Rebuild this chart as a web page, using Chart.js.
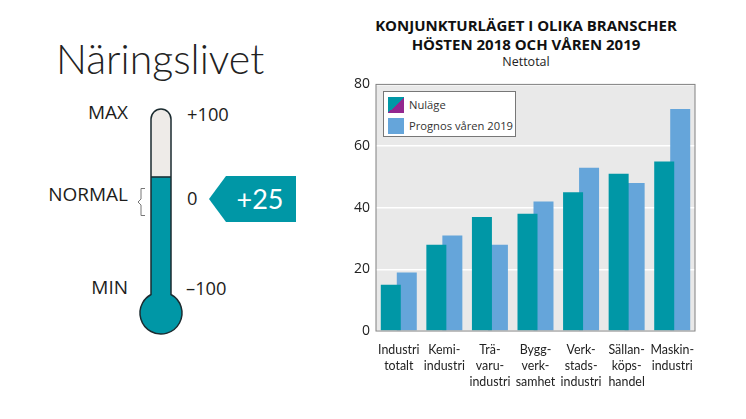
<!DOCTYPE html>
<html lang="sv">
<head>
<meta charset="utf-8">
<title>Näringslivet</title>
<script src="https://cdn.jsdelivr.net/npm/chart.js@4"></script>
<style>
  html, body { margin: 0; padding: 0; background: #fff; }
  body { width: 746px; height: 419px; position: relative; overflow: hidden; font-family: "Open Sans", sans-serif; color: #1d1d1b; }
  .txt { position: absolute; white-space: nowrap; line-height: 1; }
  .rubrik { left: 56px; top: 38px; font-family: Lato, sans-serif; font-weight: 300; font-size: 41px; color: #222; }
  .etikett { font-size: 18.3px; }
  .hoger { text-align: right; width: 100px; font-size: 19px; }
  #titel { position: absolute; left: 340px; top: 16px; width: 372px; text-align: center; font-weight: 700; font-size: 15px; line-height: 19px; color: #111; }
  #undertitel { position: absolute; left: 340px; top: 53px; width: 372px; text-align: center; font-size: 12.5px; color: #222; }
  #badge { position: absolute; left: 209px; top: 176px; width: 87px; height: 46px; background: #0097a6; clip-path: polygon(0 50%, 17px 0, 100% 0, 100% 100%, 17px 100%); color: #fff; font-family: Lato, sans-serif; font-size: 27px; line-height: 46px; text-align: center; text-indent: 15px; }
  #klammer { position: absolute; left: 134px; top: 186px; }
  #termo { position: absolute; left: 130px; top: 100px; width: 62px; height: 240px; }
  #stapel { position: absolute; left: 340px; top: 70px; width: 370px; height: 330px; }
  #legend { position: absolute; left: 383px; top: 91px; width: 131px; height: 44px; background: #fff; border: 1px solid #777; font-size: 11.2px; color: #333; }
  #legend div { position: absolute; left: 4px; height: 16px; line-height: 16px; padding-left: 21px; white-space: nowrap; }
  #legend i { position: absolute; left: 0; top: 0; width: 16px; height: 16px; }
</style>
</head>
<body>
<div class="txt rubrik">Näringslivet</div>
<div class="txt etikett hoger" style="left:28px;top:103px">MAX</div>
<div class="txt etikett hoger" style="left:28px;top:185px">NORMAL</div>
<div class="txt etikett hoger" style="left:28px;top:278px">MIN</div>
<div class="txt etikett" style="left:187px;top:105px">+100</div>
<div class="txt etikett" style="left:187px;top:189px">0</div>
<div class="txt etikett" style="left:186px;top:279px">–100</div>
<svg id="klammer" width="12" height="32"><path d="M11 2.5H7V13L4 16L7 19V29.5H11" fill="none" stroke="#777" stroke-width="1"/></svg>
<div id="badge"></div>
<div id="termo"><canvas id="termoCanvas"></canvas></div>

<div id="titel">KONJUNKTURLÄGET I OLIKA BRANSCHER<br>HÖSTEN 2018 OCH VÅREN 2019</div>
<div id="undertitel">Nettotal</div>
<div id="stapel"><canvas id="stapelCanvas"></canvas></div>
<div id="legend"></div>

<script>
// ===== Data =====
const branscher = [
  ["Industri", "totalt"],
  ["Kemi-", "industri"],
  ["Trä-", "varu-", "industri"],
  ["Bygg-", "verk-", "samhet"],
  ["Verk-", "stads-", "industri"],
  ["Sällan-", "köps-", "handel"],
  ["Maskin-", "industri"]
];
const nulage = [15, 28, 37, 38, 45, 51, 55];
const prognos = [19, 31, 28, 42, 53, 48, 72];
const serieNamn = ["Nuläge", "Prognos våren 2019"];
const termoVarde = 25;
const termoMin = -100;
const termoMax = 100;

const TEAL = "#0097a6";
const BLA = "#65a5da";
const LILA = "#93278f";
const LJUS = "#eeebe8";
const KANT = "#1b2b30";

// ===== Stapeldiagram =====
const plotBakgrund = {
  id: "plotBakgrund",
  beforeDraw(chart) {
    const { ctx, chartArea: a } = chart;
    ctx.save();
    ctx.fillStyle = "#e9e9e9";
    ctx.fillRect(a.left, a.top, a.right - a.left, a.bottom - a.top);
    ctx.restore();
  },
  afterDatasetsDraw(chart) {
    const { ctx, chartArea: a } = chart;
    ctx.save();
    ctx.strokeStyle = "#808080";
    ctx.lineWidth = 1;
    ctx.strokeRect(a.left, a.top, a.right - a.left, a.bottom - a.top);
    ctx.restore();
  }
};

new Chart(document.getElementById("stapelCanvas"), {
  type: "bar",
  data: {
    labels: branscher,
    datasets: [
      { label: serieNamn[0], data: nulage, backgroundColor: TEAL },
      { label: serieNamn[1], data: prognos, backgroundColor: BLA }
    ]
  },
  options: {
    responsive: true,
    maintainAspectRatio: false,
    animation: false,
    // staplarna overlappar lite, darav barPercentage over 1
    categoryPercentage: 0.702,
    barPercentage: 1.25,
    layout: { padding: { top: 14, right: 15, left: 0, bottom: 0 } },
    plugins: { legend: { display: false }, tooltip: { enabled: false } },
    scales: {
      x: {
        grid: { display: false },
        border: { display: false },
        afterFit(s) { s.height = 69; },
        ticks: { color: "#222", font: { family: "Lato", size: 12.4, lineHeight: 1.29 }, padding: 3, maxRotation: 0, autoSkip: false }
      },
      y: {
        min: 0,
        max: 80,
        afterFit(s) { s.width = 36; },
        grid: { color: "#fff", lineWidth: 1.5, drawTicks: false },
        border: { display: false },
        ticks: { stepSize: 20, color: "#222", font: { family: "Open Sans", size: 14 }, padding: 6 }
      }
    }
  },
  plugins: [plotBakgrund]
});

// ===== Termometer =====
function termoForm(ctx, chart) {
  const x = chart.scales.x.getPixelForValue(0);
  const topp = chart.scales.y.getPixelForValue(termoMax) - 5;
  const bulbY = chart.scales.y.getPixelForValue(termoMin) + 31;
  const r = 21, b = 10;
  const v = Math.asin(b / r);
  ctx.beginPath();
  ctx.moveTo(x - b, bulbY - r * Math.cos(v));
  ctx.lineTo(x - b, topp + b);
  ctx.arc(x, topp + b, b, Math.PI, 0);
  ctx.lineTo(x + b, bulbY - r * Math.cos(v));
  ctx.arc(x, bulbY, r, -Math.PI / 2 + v, -Math.PI / 2 - v + Math.PI * 2);
  ctx.closePath();
}

const termoRam = {
  id: "termoRam",
  beforeDatasetsDraw(chart) {
    const { ctx, width, height } = chart;
    const nivå = chart.scales.y.getPixelForValue(termoVarde);
    ctx.save();
    termoForm(ctx, chart);
    ctx.clip();
    ctx.fillStyle = LJUS;
    ctx.fillRect(0, 0, width, nivå);
    ctx.fillStyle = TEAL;
    ctx.fillRect(0, nivå, width, height - nivå);
    ctx.restore();
  },
  afterDatasetsDraw(chart) {
    const { ctx } = chart;
    const x = chart.scales.x.getPixelForValue(0);
    const nivå = chart.scales.y.getPixelForValue(termoVarde);
    ctx.save();
    ctx.strokeStyle = KANT;
    ctx.lineWidth = 1.5;
    termoForm(ctx, chart);
    ctx.stroke();
    ctx.beginPath();
    ctx.moveTo(x - 10, nivå);
    ctx.lineTo(x + 10, nivå);
    ctx.stroke();
    ctx.restore();
  }
};

new Chart(document.getElementById("termoCanvas"), {
  type: "bar",
  data: {
    labels: ["Näringslivet"],
    datasets: [
      { data: [[termoMin, termoVarde]], backgroundColor: TEAL, barThickness: 19, grouped: false },
      { data: [[termoVarde, termoMax]], backgroundColor: LJUS, barThickness: 19, grouped: false }
    ]
  },
  options: {
    responsive: true,
    maintainAspectRatio: false,
    animation: false,
    layout: { padding: { top: 14, bottom: 58 } },
    plugins: { legend: { display: false }, tooltip: { enabled: false } },
    scales: {
      x: { display: false },
      y: { display: false, min: termoMin, max: termoMax }
    }
  },
  plugins: [termoRam]
});

document.getElementById("badge").textContent = "+" + termoVarde;

// ===== Legend =====
const legend = document.getElementById("legend");
const swatchar = [
  "linear-gradient(to bottom right, " + TEAL + " 50%, " + LILA + " 50%)",
  BLA
];
serieNamn.forEach((namn, i) => {
  const rad = document.createElement("div");
  rad.style.top = (5 + i * 21) + "px";
  rad.textContent = namn;
  const ruta = document.createElement("i");
  ruta.style.background = swatchar[i];
  rad.appendChild(ruta);
  legend.appendChild(rad);
});
</script>
</body>
</html>
